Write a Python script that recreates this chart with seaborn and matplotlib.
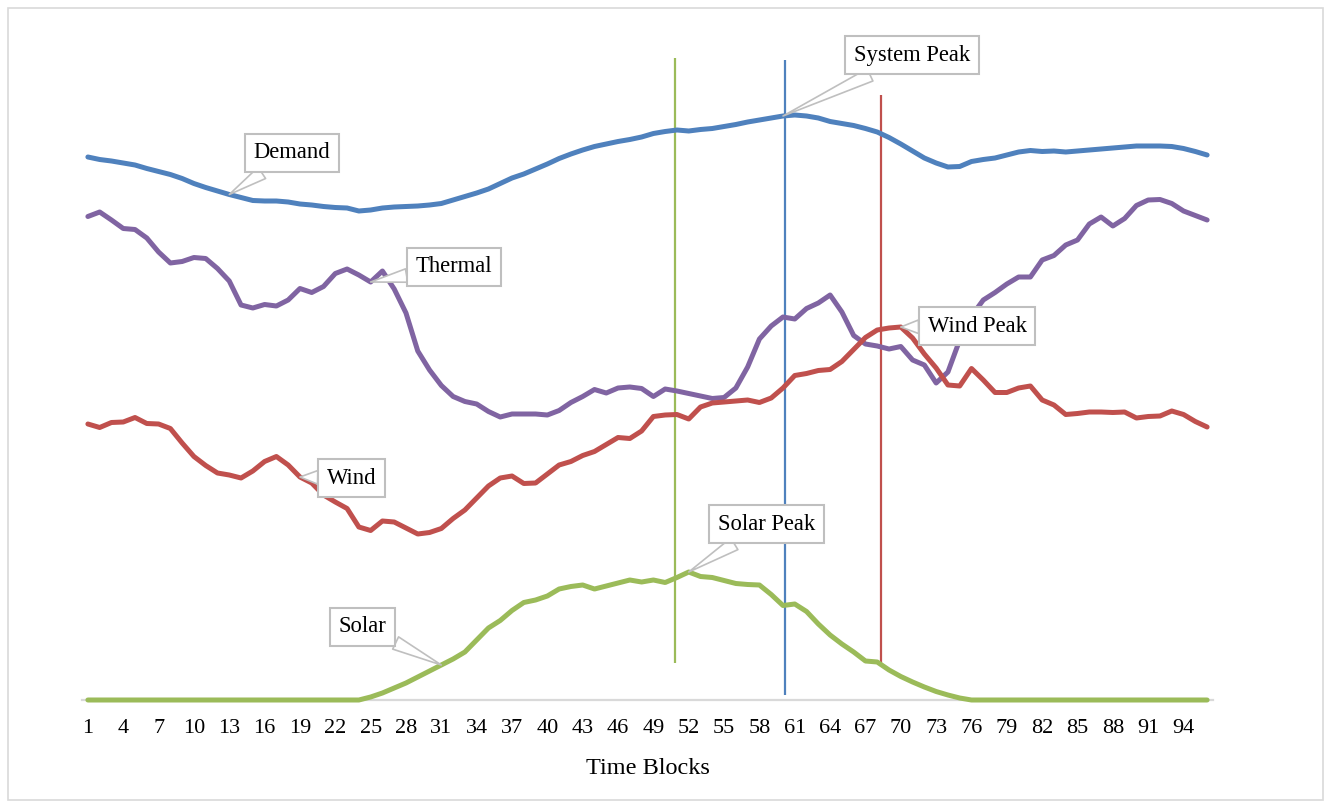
import matplotlib
matplotlib.use("Agg")
import matplotlib.pyplot as plt
import matplotlib.patches as mpatches
import numpy as np
import pandas as pd
import seaborn as sns

# ---- data: 96 fifteen-minute time blocks ----
blocks = list(range(1, 97))

demand = [543, 540.5, 539, 537, 535, 531.5, 528.5, 525.5, 521.5, 516.5, 512.5, 509,
          505.5, 502.5, 499.5, 499, 499, 498, 496, 495, 493.5, 492.5, 492, 489,
          490, 492, 493, 493.5, 494, 495, 496.5, 500, 503.5, 507, 511, 516.5,
          522, 526, 531, 536, 541.5, 546, 550, 553.5, 556, 558.5, 560.5, 563,
          566.5, 568.5, 570, 569, 570.5, 571.5, 573.5, 575.5, 578, 580, 582, 584,
          585, 584, 582, 578.5, 576.5, 574.5, 571.5, 568, 562.5, 556, 549, 542,
          537, 533, 533.5, 538.5, 540.5, 542, 545, 548, 549.5, 548.5, 549, 548,
          549, 550, 551, 552, 553, 554, 554, 554, 553.5, 551.5, 548.5, 545]

thermal = [483.5, 488, 480, 471.5, 470.5, 462, 448, 437, 438.5, 442.5, 441.5, 431.5,
           419, 395, 392, 395.5, 394, 400, 411.5, 407.5, 413.5, 426.5, 431, 425,
           418, 429, 411, 387, 349, 330, 314.5, 303.5, 298.5, 296, 288.5, 283,
           286, 286, 286, 285, 289.5, 297.5, 303.5, 310.5, 307, 312, 313, 311.5,
           303.5, 311, 309, 306.5, 304, 301.5, 302.5, 312, 333, 361, 374, 383,
           381, 391.5, 397, 405, 388, 364.5, 356, 354, 351, 353.5, 340, 335,
           317, 328, 360, 384, 400, 407.5, 416, 423, 423, 440, 444.5, 455,
           460, 476, 483, 474, 481.5, 494.5, 500, 500.5, 496.5, 489, 484.5, 480]

wind = [276, 272.5, 277.5, 278, 282.5, 276.5, 276, 271.5, 257, 243.5, 234.5, 227,
        225, 222, 229, 238.5, 243.5, 235, 223, 217, 205, 198, 191.5, 173,
        169.5, 179, 178, 172, 166, 167.5, 171.5, 181.5, 190, 202, 214, 222,
        224, 216.5, 217, 226, 235, 238.5, 244.5, 248.5, 255.5, 262.5, 261.5, 269,
        283.5, 285, 285.5, 281, 293, 297, 298, 299, 300, 297.5, 302, 312,
        324.5, 326.5, 329.5, 330.5, 338.5, 350.5, 362.5, 370, 372, 373, 362, 346,
        332, 315, 314, 331.5, 320, 307.5, 307.5, 312, 314, 300, 295, 285.5,
        286.5, 288, 288, 287.5, 288, 282, 283.5, 284, 289, 285.5, 278.5, 273]

solar = [0, 0, 0, 0, 0, 0, 0, 0, 0, 0, 0, 0,
         0, 0, 0, 0, 0, 0, 0, 0, 0, 0, 0, 0,
         3, 7, 12, 17, 23, 29, 35, 41, 48, 60, 72, 79.5,
         89.5, 97.5, 100, 104, 111, 113.5, 115, 111, 114, 117, 120, 118,
         120, 117.5, 122.5, 128, 123.5, 122.5, 119.5, 116.5, 115.5, 115, 105.5, 94.5,
         96, 88.5, 76, 65, 56, 48, 39, 38, 30, 23.5, 18, 13,
         8.5, 5, 2, 0, 0, 0, 0, 0, 0, 0, 0, 0,
         0, 0, 0, 0, 0, 0, 0, 0, 0, 0, 0, 0]

series_names = ["Demand", "Thermal", "Wind", "Solar"]
series_colors = ["#4F81BD", "#8064A2", "#C0504D", "#9BBB59"]

# peak marker lines: solar peak, system peak, wind peak
peak_names = ["Solar", "Demand", "Wind"]
peak_blocks = [50.8, 60.2, 68.3]
peak_low = [37, 5, 35]
peak_high = [642, 640, 605]

tick_blocks = list(range(1, 97, 3))

# ---- style ----
sns.set_style("white")
plt.rcParams["font.family"] = ["Liberation Serif", "DejaVu Serif"]
plt.rcParams["text.color"] = "black"
plt.rcParams["xtick.color"] = "black"
plt.rcParams["axes.labelcolor"] = "black"

df = pd.DataFrame({"Block": blocks, "Demand": demand, "Thermal": thermal,
                   "Wind": wind, "Solar": solar})
long_df = df.melt(id_vars="Block", var_name="Series", value_name="Value")

fig = plt.figure(figsize=(13.32, 8.08), dpi=100)
ax = fig.add_axes([82 / 1332, (808 - 700) / 808, 1131 / 1332, 660 / 808])

sns.lineplot(data=long_df, x="Block", y="Value", hue="Series",
             hue_order=series_names, palette=series_colors,
             linewidth=3.6, legend=False, ax=ax)
for ln in ax.get_lines():
    ln.set_clip_on(False)
    ln.set_zorder(3)
    ln.set_solid_joinstyle("round")

color_of = dict(zip(series_names, series_colors))
ax.vlines(peak_blocks, peak_low, peak_high,
          colors=[color_of[n] for n in peak_names], linewidth=1.6, zorder=2)

ax.set_xlim(0.5, 96.5)
ax.set_ylim(0, 660)
ax.set_xticks(tick_blocks)
ax.set_xticklabels([str(t) for t in tick_blocks])
ax.set_yticks([])
ax.tick_params(axis="x", length=0, pad=14, labelsize=16, labelcolor="black")
ax.set_xlabel("Time Blocks", fontsize=17.5, labelpad=14, color="black")
ax.set_ylabel("")
for side in ["top", "left", "right"]:
    ax.spines[side].set_visible(False)
ax.spines["bottom"].set_color("#D9D9D9")
ax.spines["bottom"].set_linewidth(1.6)

# ---- callouts ----
callouts = [
    ("Demand", 13, demand[12], 18.3, 547),
    ("Thermal", 25, thermal[24], 32.1, 433),
    ("System Peak", 60, demand[59], 70.95, 645),
    ("Wind Peak", 70, wind[69], 76.5, 374),
    ("Wind", 19, wind[18], 23.4, 222),
    ("Solar Peak", 52, solar[51], 58.6, 176),
    ("Solar", 31, solar[30], 24.3, 73),
]
for text, bx, by, tx, ty in callouts:
    ax.annotate(text, xy=(bx, by), xytext=(tx, ty), fontsize=16.3, color="black",
                ha="center", va="center", zorder=5, annotation_clip=False,
                bbox=dict(boxstyle="square,pad=0.38", fc="white",
                          ec="#BFBFBF", lw=1.5),
                arrowprops=dict(arrowstyle="wedge,tail_width=0.6,shrink_factor=0.5",
                                fc="white", ec="#BFBFBF", lw=1.2,
                                shrinkA=0, shrinkB=0))

# outer frame of the chart area
fig.patches.append(mpatches.Rectangle((8 / 1332, 8 / 808), 1315 / 1332, 792 / 808,
                                      transform=fig.transFigure, fill=False,
                                      ec="#D9D9D9", lw=1.2))

fig.savefig("out.png", dpi=100, facecolor="white")
